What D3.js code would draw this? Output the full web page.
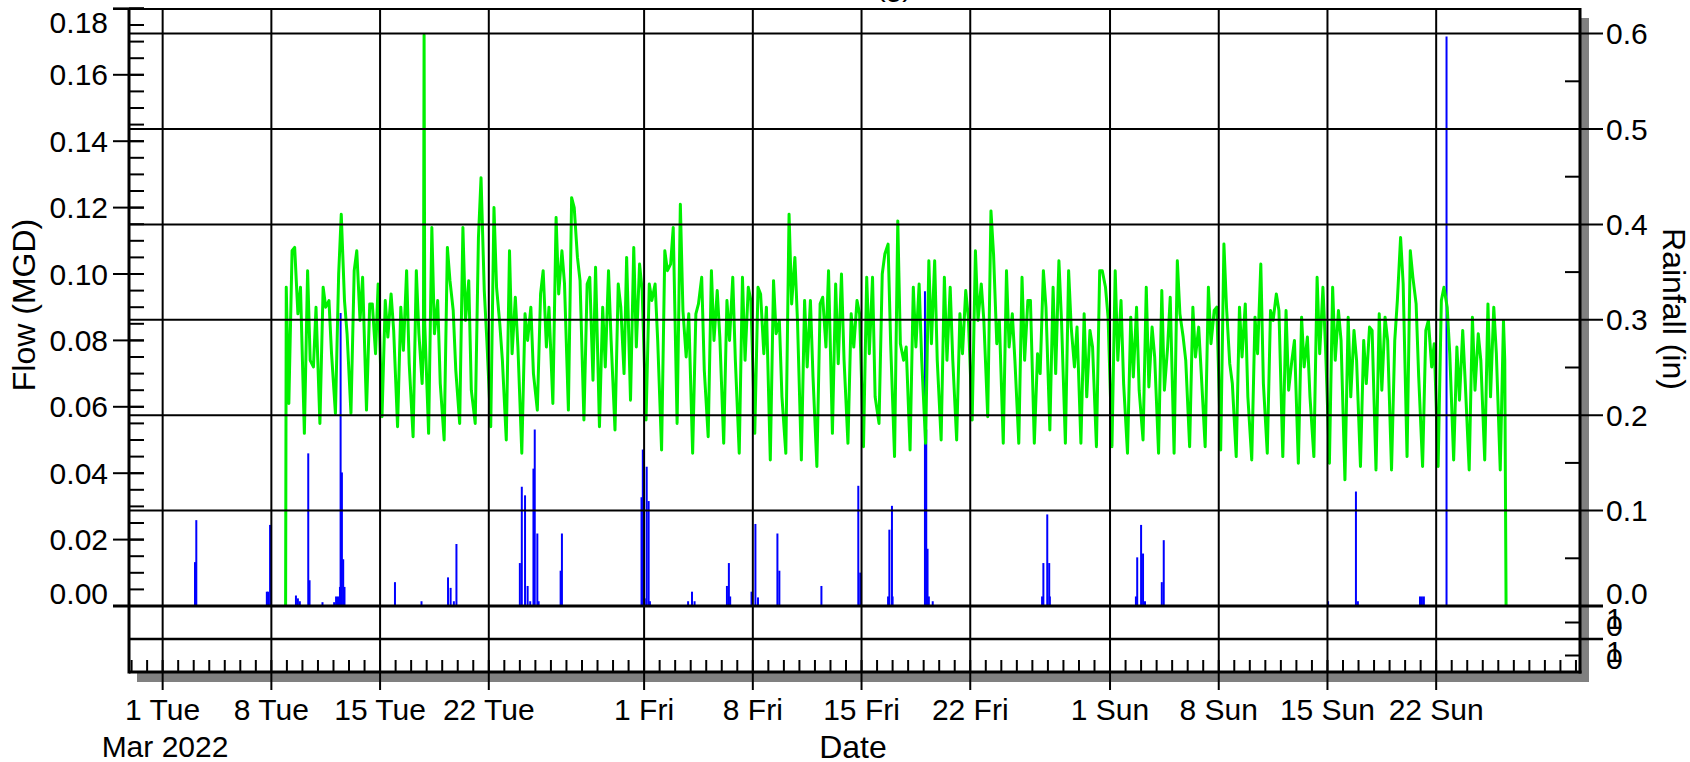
<!DOCTYPE html>
<html>
<head>
<meta charset="utf-8">
<script src="https://cdn.jsdelivr.net/npm/d3@7"></script>
<style>
  body { margin: 0; background: #fff; }
  svg { display: block; font-family: "Liberation Sans", Arial, sans-serif; }
</style>
</head>
<body>
<div id="chart"></div>
<script>
// Flow (MGD): one row per day, values at the hours in flowHours
var flowHours = [3, 8, 12, 17, 21];
var flowFirstDay = "2022-03-09";
var flowDaily = [
  [0.061, 0.107, 0.108, 0.088, 0.096], // Mar 9
  [0.052, 0.101, 0.074, 0.072, 0.090],
  [0.055, 0.096, 0.090, 0.092, 0.076],
  [0.058, 0.100, 0.118, 0.092, 0.082],
  [0.058, 0.101, 0.107, 0.086, 0.099],
  [0.059, 0.091, 0.091, 0.076, 0.097],
  [0.057, 0.092, 0.081, 0.094, 0.083], // Mar 15
  [0.054, 0.090, 0.077, 0.101, 0.073],
  [0.051, 0.101, 0.082, 0.067, 0.085],
  [0.052, 0.114, 0.082, 0.092, 0.067],
  [0.050, 0.108, 0.098, 0.089, 0.071],
  [0.055, 0.114, 0.086, 0.098, 0.065],
  [0.055, 0.111, 0.129, 0.095, 0.080],
  [0.054, 0.120, 0.096, 0.085, 0.074], // Mar 22
  [0.050, 0.107, 0.076, 0.093, 0.078],
  [0.046, 0.088, 0.080, 0.090, 0.070],
  [0.059, 0.094, 0.101, 0.078, 0.090],
  [0.061, 0.117, 0.094, 0.107, 0.097],
  [0.059, 0.123, 0.120, 0.105, 0.098],
  [0.056, 0.097, 0.099, 0.068, 0.102],
  [0.054, 0.090, 0.072, 0.101, 0.080],
  [0.053, 0.097, 0.090, 0.070, 0.105],
  [0.062, 0.108, 0.078, 0.103, 0.095], // Mar 31
  [0.056, 0.097, 0.092, 0.097, 0.080], // Apr 1
  [0.047, 0.107, 0.101, 0.103, 0.114],
  [0.055, 0.121, 0.089, 0.075, 0.088],
  [0.046, 0.088, 0.091, 0.099, 0.071],
  [0.051, 0.101, 0.080, 0.095, 0.081],
  [0.049, 0.092, 0.080, 0.099, 0.074],
  [0.046, 0.099, 0.074, 0.096, 0.092],
  [0.052, 0.096, 0.094, 0.076, 0.090], // Apr 8
  [0.044, 0.098, 0.082, 0.086, 0.063],
  [0.046, 0.118, 0.091, 0.105, 0.086],
  [0.044, 0.092, 0.072, 0.092, 0.069],
  [0.042, 0.091, 0.093, 0.078, 0.101],
  [0.052, 0.097, 0.073, 0.100, 0.074],
  [0.049, 0.088, 0.078, 0.092, 0.088],
  [0.048, 0.099, 0.076, 0.099, 0.063], // Apr 15
  [0.055, 0.100, 0.106, 0.109, 0.079],
  [0.045, 0.116, 0.079, 0.074, 0.078],
  [0.047, 0.096, 0.078, 0.097, 0.074],
  [0.049, 0.104, 0.079, 0.104, 0.074],
  [0.050, 0.099, 0.074, 0.096, 0.074],
  [0.050, 0.088, 0.076, 0.095, 0.087],
  [0.056, 0.107, 0.086, 0.097, 0.086], // Apr 22
  [0.057, 0.119, 0.106, 0.079, 0.086],
  [0.049, 0.101, 0.078, 0.088, 0.074],
  [0.049, 0.099, 0.074, 0.092, 0.092],
  [0.049, 0.076, 0.070, 0.101, 0.090],
  [0.053, 0.096, 0.070, 0.104, 0.086],
  [0.049, 0.101, 0.084, 0.072, 0.084],
  [0.049, 0.088, 0.063, 0.083, 0.078],
  [0.048, 0.101, 0.101, 0.096, 0.087], // Apr 30
  [0.048, 0.101, 0.074, 0.092, 0.067], // May 1
  [0.046, 0.087, 0.069, 0.090, 0.065],
  [0.050, 0.096, 0.066, 0.084, 0.075],
  [0.046, 0.095, 0.065, 0.078, 0.093],
  [0.046, 0.104, 0.088, 0.081, 0.074],
  [0.048, 0.090, 0.075, 0.084, 0.070],
  [0.048, 0.096, 0.079, 0.089, 0.090],
  [0.047, 0.109, 0.090, 0.073, 0.067], // May 8
  [0.045, 0.090, 0.075, 0.091, 0.063],
  [0.044, 0.087, 0.076, 0.103, 0.067],
  [0.046, 0.089, 0.086, 0.094, 0.089],
  [0.045, 0.089, 0.065, 0.074, 0.080],
  [0.043, 0.087, 0.072, 0.081, 0.063],
  [0.045, 0.099, 0.076, 0.096, 0.078],
  [0.043, 0.096, 0.074, 0.089, 0.080], // May 15
  [0.038, 0.087, 0.063, 0.083, 0.074],
  [0.042, 0.080, 0.067, 0.084, 0.083],
  [0.041, 0.088, 0.065, 0.087, 0.080],
  [0.041, 0.080, 0.092, 0.111, 0.097],
  [0.045, 0.107, 0.099, 0.091, 0.069],
  [0.042, 0.083, 0.086, 0.072, 0.079],
  [0.042, 0.092, 0.096, 0.090, 0.076], // May 22
  [0.044, 0.078, 0.062, 0.083, 0.067],
  [0.041, 0.087, 0.065, 0.082, 0.074],
  [0.044, 0.091, 0.063, 0.090, 0.076],
  [0.041, 0.086]                       // May 26
];
// single readings outside the daily rows (start, spike, end)
var flowExtraTimes = ["2022-03-08T22:00", "2022-03-08T23:00", "2022-03-17T19:00",
                      "2022-03-17T20:00", "2022-05-26T10:00", "2022-05-26T12:00"];
var flowExtraValues = [0, 0.096, 0.080, 0.172, 0.074, 0];

// Rainfall (in), hourly totals
var rainTimes = [
  "2022-03-03T02", "2022-03-03T04", "2022-03-07T17", "2022-03-07T19", "2022-03-07T22",
  "2022-03-09T14", "2022-03-09T17", "2022-03-09T20", "2022-03-10T09", "2022-03-10T11",
  "2022-03-11T07", "2022-03-12T01", "2022-03-12T04", "2022-03-12T07", "2022-03-12T10",
  "2022-03-12T11", "2022-03-12T13", "2022-03-12T15", "2022-03-12T17", "2022-03-15T23",
  "2022-03-17T16", "2022-03-19T09", "2022-03-19T13", "2022-03-19T18", "2022-03-19T22",
  "2022-03-24T00", "2022-03-24T03", "2022-03-24T08", "2022-03-24T12", "2022-03-24T16",
  "2022-03-24T21", "2022-03-24T23", "2022-03-25T03", "2022-03-25T05", "2022-03-26T15",
  "2022-03-26T17", "2022-03-31T20", "2022-03-31T22", "2022-04-01T01", "2022-04-01T04",
  "2022-04-01T07", "2022-04-01T09", "2022-04-03T20", "2022-04-04T02", "2022-04-04T06",
  "2022-04-06T08", "2022-04-06T11", "2022-04-06T13", "2022-04-07T22", "2022-04-08T04",
  "2022-04-08T08", "2022-04-09T14", "2022-04-09T17", "2022-04-12T10", "2022-04-14T19",
  "2022-04-14T22", "2022-04-16T17", "2022-04-16T19", "2022-04-16T23", "2022-04-17T00",
  "2022-04-19T02", "2022-04-19T04", "2022-04-19T06", "2022-04-19T08", "2022-04-19T14",
  "2022-04-26T15", "2022-04-26T17", "2022-04-26T23", "2022-04-27T02", "2022-04-27T03",
  "2022-05-02T16", "2022-05-02T18", "2022-05-03T00", "2022-05-03T03", "2022-05-03T06",
  "2022-05-04T08", "2022-05-04T11", "2022-05-15T01", "2022-05-16T20", "2022-05-16T23",
  "2022-05-20T23", "2022-05-21T02", "2022-05-21T05", "2022-05-22T16"
];
var rainInches = [
  0.046, 0.090, 0.015, 0.015, 0.085,
  0.011, 0.008, 0.005, 0.160, 0.027,
  0.004, 0.004, 0.010, 0.010, 0.020,
  0.307, 0.140, 0.049, 0.020, 0.025,
  0.005, 0.030, 0.019, 0.005, 0.065,
  0.045, 0.125, 0.116, 0.021, 0.005,
  0.144, 0.185, 0.076, 0.005, 0.037,
  0.076, 0.114, 0.164, 0.008, 0.146,
  0.110, 0.005, 0.005, 0.015, 0.005,
  0.021, 0.045, 0.010, 0.015, 0.086,
  0.009, 0.076, 0.037, 0.021, 0.126,
  0.035, 0.010, 0.080, 0.105, 0.010,
  0.330, 0.185, 0.060, 0.010, 0.005,
  0.010, 0.045, 0.096, 0.045, 0.010,
  0.010, 0.051, 0.085, 0.055, 0.005,
  0.025, 0.069, 0.005, 0.120, 0.005,
  0.010, 0.010, 0.010, 0.597
];

// Axis ticks
var flowTicks = [0, 0.02, 0.04, 0.06, 0.08, 0.10, 0.12, 0.14, 0.16, 0.18];
var rainTicks = [0, 0.1, 0.2, 0.3, 0.4, 0.5, 0.6];
var dateTicks = ["2022-03-01", "2022-03-08", "2022-03-15", "2022-03-22",
                 "2022-04-01", "2022-04-08", "2022-04-15", "2022-04-22",
                 "2022-05-01", "2022-05-08", "2022-05-15", "2022-05-22"];
var stripTickLabels = ["1", "0"];

(function() {
  var parseDay = d3.utcParse("%Y-%m-%d"),
      parseHour = d3.utcParse("%Y-%m-%dT%H"),
      parseMin = d3.utcParse("%Y-%m-%dT%H:%M");

  var svg = d3.select("#chart").append("svg")
      .attr("width", 1690)
      .attr("height", 762);

  var pLeft = 129, pRight = 1580, pTop = 9, pBottom = 672;

  var x = d3.scaleUtc()
      .domain([Date.UTC(2022, 1, 26, 20), Date.UTC(2022, 4, 31, 6, 15)])
      .range([pLeft, pRight]);
  var yFlow = d3.scaleLinear().domain([0, 0.18]).range([606, 8.4]);
  var yRain = d3.scaleLinear().domain([0, 0.6]).range([606, 33.6]);
  var yStrip = d3.scaleLinear().domain([0, 1]).range([pBottom, 606]);

  // Build the flow series
  var flow = [];
  var day0 = parseDay(flowFirstDay);
  flowDaily.forEach(function(row, i) {
    var day = d3.utcDay.offset(day0, i);
    row.forEach(function(v, j) {
      flow.push({ t: d3.utcHour.offset(day, flowHours[j]), v: v });
    });
  });
  flowExtraTimes.forEach(function(s, i) {
    flow.push({ t: parseMin(s), v: flowExtraValues[i] });
  });
  flow.sort(function(a, b) { return a.t - b.t; });

  var rain = rainTimes.map(function(s, i) {
    return { t: parseHour(s), v: rainInches[i] };
  });

  // Drop shadow + frame background
  svg.append("rect")
      .attr("x", 137).attr("y", 18)
      .attr("width", 1589 - 137).attr("height", 682 - 18)
      .style("fill", "#808080");
  svg.append("rect")
      .attr("x", pLeft).attr("y", pTop)
      .attr("width", pRight - pLeft).attr("height", pBottom - pTop)
      .style("fill", "#fff");

  // Rainfall bars
  svg.append("g").selectAll("line")
      .data(rain)
    .enter().append("line")
      .attr("x1", function(d) { return x(d.t); })
      .attr("x2", function(d) { return x(d.t); })
      .attr("y1", yRain(0))
      .attr("y2", function(d) { return yRain(d.v); })
      .style("stroke", "#0000ff")
      .style("stroke-width", 2);

  // Flow line
  svg.append("path")
      .datum(flow)
      .attr("d", d3.line()
          .x(function(d) { return x(d.t); })
          .y(function(d) { return yFlow(d.v); }))
      .style("fill", "none")
      .style("stroke", "#00f000")
      .style("stroke-width", 3)
      .style("stroke-linejoin", "round");

  var g = svg.append("g").style("stroke", "#000");

  // Vertical grid at week ticks (runs below the axis as the tick)
  var majors = dateTicks.map(parseDay);
  g.selectAll(".vgrid")
      .data(majors)
    .enter().append("line")
      .attr("class", "vgrid")
      .attr("x1", x).attr("x2", x)
      .attr("y1", pTop).attr("y2", 690)
      .style("stroke-width", 2);

  // Daily minor ticks
  g.selectAll(".dtick")
      .data(d3.utcDay.range(x.domain()[0], x.domain()[1]))
    .enter().append("line")
      .attr("class", "dtick")
      .attr("x1", x).attr("x2", x)
      .attr("y1", pBottom).attr("y2", pBottom - 12)
      .style("stroke-width", 2);

  // Horizontal grid at rainfall ticks
  g.selectAll(".hgrid")
      .data(rainTicks.slice(1))
    .enter().append("line")
      .attr("class", "hgrid")
      .attr("x1", pLeft).attr("x2", pRight + 23)
      .attr("y1", yRain).attr("y2", yRain)
      .style("stroke-width", 2);

  // Rainfall minor ticks
  g.selectAll(".rminor")
      .data(d3.range(0.05, 0.6, 0.1))
    .enter().append("line")
      .attr("class", "rminor")
      .attr("x1", pRight - 15).attr("x2", pRight)
      .attr("y1", yRain).attr("y2", yRain)
      .style("stroke-width", 2);

  // Flow ticks: majors cross the axis, minors inside
  g.selectAll(".fminor")
      .data(d3.range(0, 0.1801, 0.005))
    .enter().append("line")
      .attr("class", "fminor")
      .attr("x1", pLeft).attr("x2", pLeft + 15)
      .attr("y1", yFlow).attr("y2", yFlow)
      .style("stroke-width", 2);
  g.selectAll(".fmajor")
      .data(flowTicks)
    .enter().append("line")
      .attr("class", "fmajor")
      .attr("x1", pLeft - 16).attr("x2", pLeft + 15)
      .attr("y1", yFlow).attr("y2", yFlow)
      .style("stroke-width", 2);

  // Lower strip
  g.append("line")
      .attr("x1", pLeft).attr("x2", pRight + 23)
      .attr("y1", yStrip(0.5)).attr("y2", yStrip(0.5))
      .style("stroke-width", 2.5);
  g.selectAll(".sminor")
      .data([0.25, 0.75])
    .enter().append("line")
      .attr("class", "sminor")
      .attr("x1", pRight - 15).attr("x2", pRight)
      .attr("y1", yStrip).attr("y2", yStrip)
      .style("stroke-width", 2);

  // Zero line
  g.append("line")
      .attr("x1", pLeft - 16).attr("x2", pRight + 23)
      .attr("y1", yRain(0)).attr("y2", yRain(0))
      .style("stroke-width", 3);

  // Frame
  g.append("line")
      .attr("x1", pLeft - 16).attr("x2", pRight)
      .attr("y1", pTop).attr("y2", pTop)
      .style("stroke-width", 2);
  g.append("line")
      .attr("x1", pLeft).attr("x2", pLeft)
      .attr("y1", pTop - 1).attr("y2", pBottom + 1.5)
      .style("stroke-width", 3);
  g.append("line")
      .attr("x1", pRight).attr("x2", pRight)
      .attr("y1", pTop - 1).attr("y2", pBottom + 1.5)
      .style("stroke-width", 3);
  g.append("line")
      .attr("x1", pLeft).attr("x2", pRight + 1.5)
      .attr("y1", pBottom).attr("y2", pBottom)
      .style("stroke-width", 3);

  // Labels
  var txt = svg.append("g")
      .style("font-size", "30px")
      .style("fill", "#000");

  var f2 = d3.format(".2f"), f1 = d3.format(".1f");

  txt.selectAll(".flab")
      .data(flowTicks)
    .enter().append("text")
      .attr("x", 108)
      .attr("y", function(d) { return Math.min(Math.max(yFlow(d), 22), 593); })
      .attr("dy", "0.35em")
      .attr("text-anchor", "end")
      .text(f2);

  txt.selectAll(".rlab")
      .data(rainTicks)
    .enter().append("text")
      .attr("x", 1606)
      .attr("y", function(d) { return Math.min(yRain(d), 593); })
      .attr("dy", "0.35em")
      .text(f1);

  // the lower strip has two labels drawn on top of each other
  [0.25, 0.75].forEach(function(p) {
    txt.append("text")
        .attr("x", 1606).attr("y", yStrip(p) + 3)
        .attr("dy", "0.35em")
        .text(stripTickLabels[1]);
    txt.append("text")
        .attr("x", 1606).attr("y", yStrip(p) - 4)
        .attr("dy", "0.35em")
        .text(stripTickLabels[0]);
  });

  var fmtDate = d3.utcFormat("%-d %a");
  txt.selectAll(".xlab")
      .data(majors)
    .enter().append("text")
      .attr("x", x)
      .attr("y", 720)
      .attr("text-anchor", "middle")
      .text(fmtDate);

  txt.append("text")
      .attr("x", 165).attr("y", 757)
      .attr("text-anchor", "middle")
      .text("Mar 2022");

  // title, mostly above the page edge
  txt.append("text")
      .attr("x", 894).attr("y", -4)
      .attr("text-anchor", "middle")
      .text("(g)");

  var titles = svg.append("g").style("font-size", "32px");

  titles.append("text")
      .attr("x", 853).attr("y", 758)
      .attr("text-anchor", "middle")
      .text("Date");

  titles.append("text")
      .attr("transform", "translate(35,305) rotate(-90)")
      .attr("text-anchor", "middle")
      .text("Flow (MGD)");

  titles.append("text")
      .attr("transform", "translate(1663,309) rotate(90)")
      .attr("text-anchor", "middle")
      .text("Rainfall (in)");
})();
</script>
</body>
</html>
